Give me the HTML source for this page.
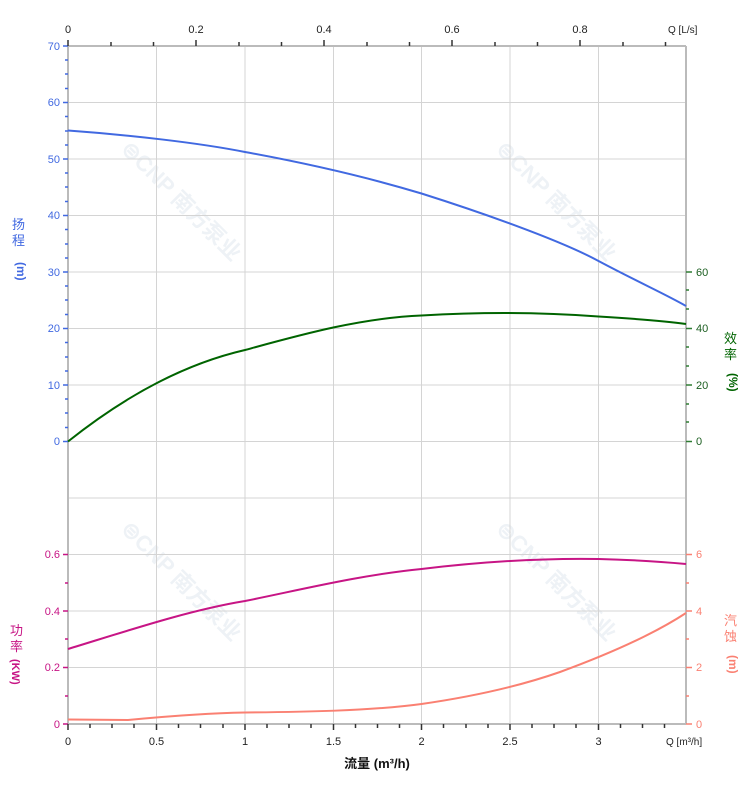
<!DOCTYPE html>
<html><head><meta charset="utf-8"><style>
body{margin:0;background:#fff;}
svg text{font-family:"Liberation Sans","Noto Sans CJK SC",sans-serif;font-size:11px;}
</style></head><body>
<svg width="752" height="797" viewBox="0 0 752 797" xmlns="http://www.w3.org/2000/svg">
<g font-weight="bold">
<text x="0" y="0" transform="translate(120,150) rotate(45)" style="font-size:22px" fill="#eef2f6">⊜CNP 南方泵业</text>
<text x="0" y="0" transform="translate(495,150) rotate(45)" style="font-size:22px" fill="#eef2f6">⊜CNP 南方泵业</text>
<text x="0" y="0" transform="translate(120,530) rotate(45)" style="font-size:22px" fill="#eef2f6">⊜CNP 南方泵业</text>
<text x="0" y="0" transform="translate(495,530) rotate(45)" style="font-size:22px" fill="#eef2f6">⊜CNP 南方泵业</text>
</g>
<g stroke="#d4d4d4" stroke-width="1">
<line x1="68" y1="46" x2="686" y2="46"/><line x1="68" y1="102.5" x2="686" y2="102.5"/><line x1="68" y1="159" x2="686" y2="159"/><line x1="68" y1="215.5" x2="686" y2="215.5"/><line x1="68" y1="272" x2="686" y2="272"/><line x1="68" y1="328.5" x2="686" y2="328.5"/><line x1="68" y1="385" x2="686" y2="385"/><line x1="68" y1="441.5" x2="686" y2="441.5"/><line x1="68" y1="498" x2="686" y2="498"/><line x1="68" y1="554.5" x2="686" y2="554.5"/><line x1="68" y1="611" x2="686" y2="611"/><line x1="68" y1="667.5" x2="686" y2="667.5"/>
<line x1="156.5" y1="46" x2="156.5" y2="724"/><line x1="245" y1="46" x2="245" y2="724"/><line x1="333.5" y1="46" x2="333.5" y2="724"/><line x1="421.5" y1="46" x2="421.5" y2="724"/><line x1="510" y1="46" x2="510" y2="724"/><line x1="598.5" y1="46" x2="598.5" y2="724"/>
</g>
<g stroke="#bbb" stroke-width="2">
<line x1="68" y1="46" x2="68" y2="724"/><line x1="686" y1="46" x2="686" y2="724"/><line x1="68" y1="724" x2="686" y2="724"/><line x1="68" y1="46" x2="686" y2="46"/>
</g>
<g stroke="#4169e1" stroke-width="1.5">
<path d="M63 46H68M65 60H68M65 74H68M65 88.5H68M63 102.5H68M65 116.5H68M65 131H68M65 145H68M63 159H68M65 173H68M65 187H68M65 201.5H68M63 215.5H68M65 229.5H68M65 244H68M65 258H68M63 272H68M65 286H68M65 300H68M65 314.5H68M63 328.5H68M65 342.5H68M65 357H68M65 371H68M63 385H68M65 399H68M65 413H68M65 427.5H68M63 441.5H68"/>
</g>
<g fill="#4169e1" text-anchor="end">
<text x="60" y="50">70</text><text x="60" y="106">60</text><text x="60" y="163">50</text><text x="60" y="219">40</text><text x="60" y="276">30</text><text x="60" y="332">20</text><text x="60" y="389">10</text><text x="60" y="445">0</text>
</g>
<text x="12" y="229" fill="#4169e1" style="font-size:13px">扬</text><text x="12" y="245" fill="#4169e1" style="font-size:13px">程</text>
<text x="17" y="262" fill="#4169e1" transform="rotate(90 17 262)" style="font-size:12px;font-weight:bold">(m)</text>
<g stroke="#2e7d32" stroke-width="1.5">
<path d="M686 272H692M686 290H689M686 309H689M686 328.5H692M686 347H689M686 366H689M686 385H692M686 404H689M686 422H689M686 441.5H692"/>
</g>
<g fill="#1b5e20"><text x="696" y="276">60</text><text x="696" y="332">40</text><text x="696" y="389">20</text><text x="696" y="445">0</text></g>
<text x="724" y="343" fill="#006400" style="font-size:13px">效</text><text x="724" y="359" fill="#006400" style="font-size:13px">率</text>
<text x="729" y="373" fill="#006400" transform="rotate(90 729 373)" style="font-size:12px;font-weight:bold">(%)</text>
<g stroke="#c71585" stroke-width="1.5"><path d="M63 554.5H68M65 583H68M63 611H68M65 639H68M63 667.5H68M65 696H68M63 724H68"/></g>
<g fill="#c71585" text-anchor="end"><text x="60" y="558">0.6</text><text x="60" y="615">0.4</text><text x="60" y="671">0.2</text><text x="60" y="728">0</text></g>
<text x="10" y="635" fill="#c71585" style="font-size:13px">功</text><text x="10" y="651" fill="#c71585" style="font-size:13px">率</text>
<text x="12" y="659" fill="#c71585" transform="rotate(90 12 659)" style="font-size:11px;font-weight:bold">(KW)</text>
<g stroke="#fa8072" stroke-width="1.5"><path d="M686 554.5H692M686 583H689M686 611H692M686 639H689M686 667.5H692M686 696H689M686 724H692"/></g>
<g fill="#fa8072"><text x="696" y="558">6</text><text x="696" y="615">4</text><text x="696" y="671">2</text><text x="696" y="728">0</text></g>
<text x="724" y="625" fill="#fa8072" style="font-size:13px">汽</text><text x="724" y="641" fill="#fa8072" style="font-size:13px">蚀</text>
<text x="729" y="655" fill="#fa8072" transform="rotate(90 729 655)" style="font-size:12px;font-weight:bold">(m)</text>
<g stroke="#333" stroke-width="1.5"><path d="M68 724V730M90 724V728M112 724V728M134 724V728M156.5 724V730M178.5 724V728M200.5 724V728M223 724V728M245 724V730M267 724V728M289 724V728M311 724V728M333.5 724V730M355.5 724V728M377.5 724V728M399.5 724V728M421.5 724V730M443.5 724V728M466 724V728M488 724V728M510 724V730M532 724V728M554 724V728M576 724V728M598.5 724V730M620.5 724V728M642.5 724V728M664.5 724V728"/>
<path d="M68 40V46M111 42V46M153.5 42V46M196 40V46M239 42V46M281.5 42V46M324 40V46M367 42V46M409.5 42V46M452 40V46M495 42V46M537.5 42V46M580 40V46M623 42V46M665.5 42V46"/></g>
<g fill="#222" text-anchor="middle">
<text x="68" y="745">0</text><text x="156.5" y="745">0.5</text><text x="245" y="745">1</text><text x="333.5" y="745">1.5</text><text x="421.5" y="745">2</text><text x="510" y="745">2.5</text><text x="598.5" y="745">3</text>
<text x="68" y="33">0</text><text x="196" y="33">0.2</text><text x="324" y="33">0.4</text><text x="452" y="33">0.6</text><text x="580" y="33">0.8</text>
</g>
<text x="666" y="745" fill="#222" style="font-size:10px">Q [m³/h]</text>
<text x="668" y="33" fill="#222" style="font-size:10px">Q [L/s]</text>
<text x="377" y="768" text-anchor="middle" fill="#111" style="font-size:13px;font-weight:bold">流量 (m³/h)</text>
<path d="M68 130.5 C130 135 200 143 245 152 C300 162 360 175 421.5 193.5 C480 212 560 240 598.5 261 C640 283 665 294 686 306" fill="none" stroke="#4169e1" stroke-width="2"/>
<path d="M68 441.5 C120 400 180 365 245 350 C300 335 360 318 421.5 315.5 C480 312 540 312 598.5 316.5 C640 319 665 321 686 324" fill="none" stroke="#006400" stroke-width="2"/>
<path d="M68 649 C130 630 190 610 245 601 C300 590 360 575 421.5 569 C480 562 540 558 598.5 559 C640 560 665 562 686 564" fill="none" stroke="#c71585" stroke-width="2"/>
<path d="M68 719.5 L128 720 C170 716 210 713 245 712.5 C300 712 370 711 421.5 704 C470 697 520 686 560 672 C620 650 660 630 686 613" fill="none" stroke="#fa8072" stroke-width="2"/>
</svg>
</body></html>
